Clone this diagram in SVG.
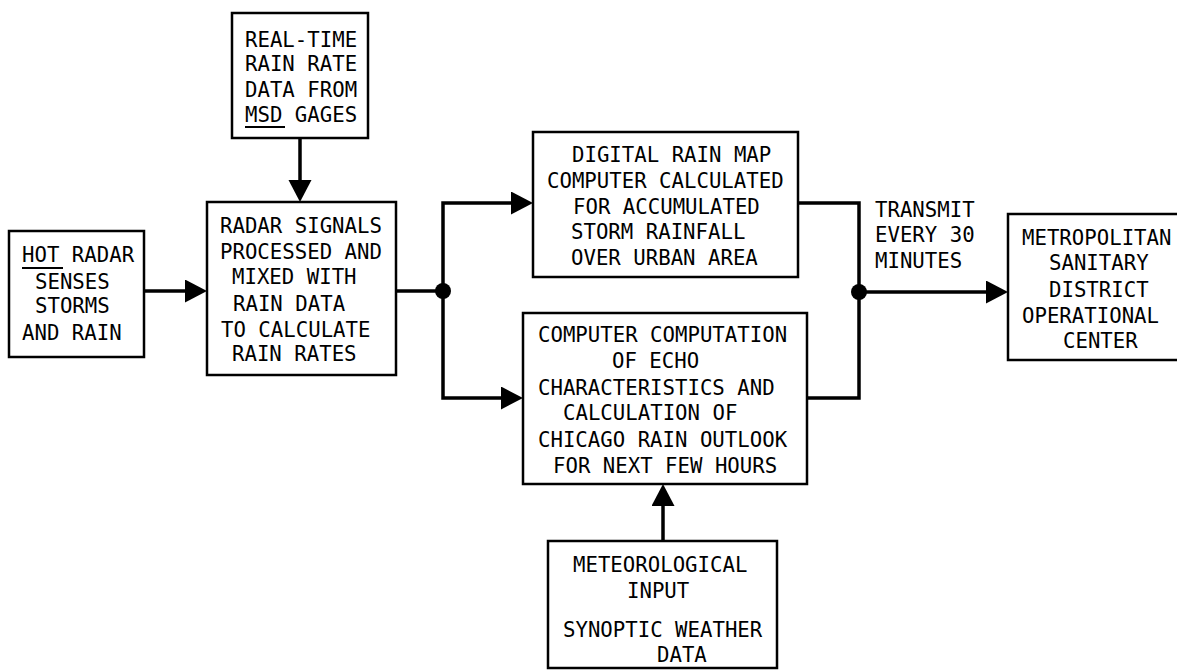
<svg xmlns="http://www.w3.org/2000/svg" width="1177" height="671" viewBox="0 0 1177 671">
  <style>
    .box { fill: #ffffff; stroke: #000000; stroke-width: 2.5; }
    .lbl { font-family: "DejaVu Sans Mono", "Liberation Mono", monospace; font-size: 20.7px; fill: #000000; }
    .wire { fill: none; stroke: #000000; stroke-width: 3.5; stroke-linejoin: miter; }
    .ul { stroke: #000000; stroke-width: 2; }
    .dot { fill: #000000; }
  </style>
  <defs>
    <marker id="arrow" markerUnits="userSpaceOnUse" markerWidth="24" markerHeight="24" refX="2" refY="11.5" orient="auto">
      <path d="M0,0 L22,11.5 L0,23 Z" fill="#000000"/>
    </marker>
  </defs>
  <rect width="1177" height="671" fill="#ffffff"/>

  <!-- connectors -->
  <g id="connectors">
    <!-- gauge data down into radar processing -->
    <path class="wire" d="M300,138 V182" marker-end="url(#arrow)"/>
    <!-- radar into processing -->
    <path class="wire" d="M144,291 H187" marker-end="url(#arrow)"/>
    <!-- processing to split point -->
    <path class="wire" d="M396,291 H443"/>
    <!-- upper branch to rain map -->
    <path class="wire" d="M443,291 V203 H513" marker-end="url(#arrow)"/>
    <!-- lower branch to echo computation -->
    <path class="wire" d="M443,291 V398 H503" marker-end="url(#arrow)"/>
    <!-- outputs merge -->
    <path class="wire" d="M798,203 H859 V398 H807"/>
    <!-- transmission to operational center -->
    <path class="wire" d="M859,292 H988" marker-end="url(#arrow)"/>
    <!-- meteorological input up -->
    <path class="wire" d="M663,541 V504" marker-end="url(#arrow)"/>
    <circle class="dot" cx="443" cy="291" r="8"/>
    <circle class="dot" cx="859" cy="292" r="8"/>
    <text class="lbl" x="875" y="217">TRANSMIT</text>
    <text class="lbl" x="875" y="242">EVERY 30</text>
    <text class="lbl" x="875" y="268">MINUTES</text>
  </g>

  <g id="gage-data">
    <rect class="box" x="232" y="13" width="136" height="125"/>
    <text class="lbl" x="245" y="47">REAL-TIME</text>
    <text class="lbl" x="245" y="71">RAIN RATE</text>
    <text class="lbl" x="245" y="97">DATA FROM</text>
    <text class="lbl" x="245" y="122">MSD GAGES</text>
    <line class="ul" x1="245" y1="127" x2="285" y2="127"/>
  </g>

  <g id="hot-radar">
    <rect class="box" x="9" y="231" width="135" height="126"/>
    <text class="lbl" x="22" y="262">HOT RADAR</text>
    <line class="ul" x1="22" y1="268" x2="63" y2="268"/>
    <text class="lbl" x="35" y="289">SENSES</text>
    <text class="lbl" x="35" y="313">STORMS</text>
    <text class="lbl" x="22" y="340">AND RAIN</text>
  </g>

  <g id="radar-processing">
    <rect class="box" x="207" y="202" width="189" height="173"/>
    <text class="lbl" x="220" y="233">RADAR SIGNALS</text>
    <text class="lbl" x="220" y="259">PROCESSED AND</text>
    <text class="lbl" x="232" y="284">MIXED WITH</text>
    <text class="lbl" x="233" y="311">RAIN DATA</text>
    <text class="lbl" x="221" y="337">TO CALCULATE</text>
    <text class="lbl" x="232" y="361">RAIN RATES</text>
  </g>

  <g id="rain-map">
    <rect class="box" x="533" y="132" width="265" height="145"/>
    <text class="lbl" x="572" y="162">DIGITAL RAIN MAP</text>
    <text class="lbl" x="547" y="188">COMPUTER CALCULATED</text>
    <text class="lbl" x="573" y="214">FOR ACCUMULATED</text>
    <text class="lbl" x="571" y="239">STORM RAINFALL</text>
    <text class="lbl" x="571" y="265">OVER URBAN AREA</text>
  </g>

  <g id="echo-computation">
    <rect class="box" x="523" y="313" width="284" height="171"/>
    <text class="lbl" x="538" y="342">COMPUTER COMPUTATION</text>
    <text class="lbl" x="612" y="368">OF ECHO</text>
    <text class="lbl" x="538" y="395">CHARACTERISTICS AND</text>
    <text class="lbl" x="563" y="420">CALCULATION OF</text>
    <text class="lbl" x="538" y="447">CHICAGO RAIN OUTLOOK</text>
    <text class="lbl" x="553" y="473">FOR NEXT FEW HOURS</text>
  </g>

  <g id="meteorological-input">
    <rect class="box" x="548" y="541" width="229" height="127"/>
    <text class="lbl" x="573" y="572">METEOROLOGICAL</text>
    <text class="lbl" x="627" y="598">INPUT</text>
    <text class="lbl" x="563" y="637">SYNOPTIC WEATHER</text>
    <text class="lbl" x="657" y="662">DATA</text>
  </g>

  <g id="operational-center">
    <rect class="box" x="1008" y="214" width="180" height="146"/>
    <text class="lbl" x="1022" y="245">METROPOLITAN</text>
    <text class="lbl" x="1049" y="270">SANITARY</text>
    <text class="lbl" x="1049" y="297">DISTRICT</text>
    <text class="lbl" x="1022" y="323">OPERATIONAL</text>
    <text class="lbl" x="1063" y="348">CENTER</text>
  </g>
</svg>
